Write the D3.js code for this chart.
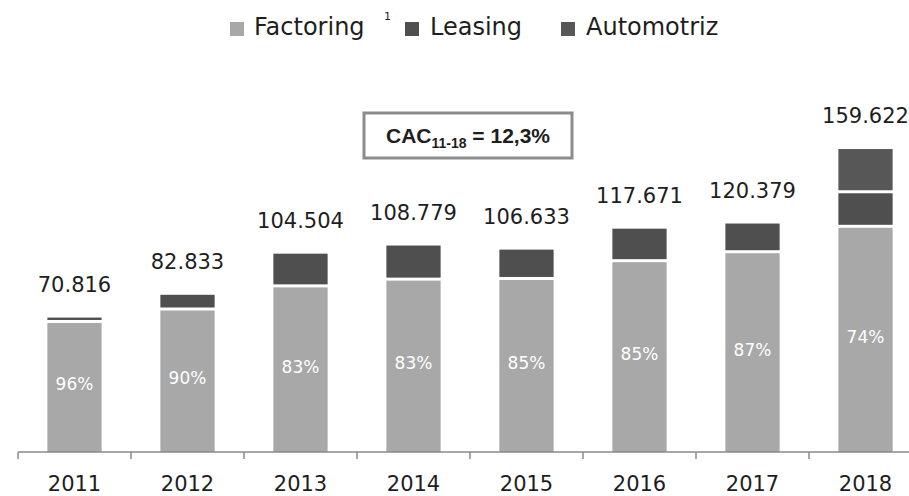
<!DOCTYPE html>
<html>
<head>
<meta charset="utf-8">
<script src="https://cdn.jsdelivr.net/npm/d3@7"></script>
<style>
  body { margin: 0; background: #fff; }
  svg { display: block; font-family: "DejaVu Sans", sans-serif; }
</style>
</head>
<body>
<div id="graphic"></div>
<script>
const years = ["2011", "2012", "2013", "2014", "2015", "2016", "2017", "2018"];
const totals = [70.816, 82.833, 104.504, 108.779, 106.633, 117.671, 120.379, 159.622];
const totalLabels = ["70.816", "82.833", "104.504", "108.779", "106.633", "117.671", "120.379", "159.622"];
const factoring = [67.98, 74.55, 86.74, 90.29, 90.64, 100.02, 104.73, 118.12];
const leasing = [2.84, 8.28, 17.76, 18.49, 15.99, 17.65, 15.65, 18.2];
const automotriz = [0, 0, 0, 0, 0, 0, 0, 23.3];
const factoringPct = ["96%", "90%", "83%", "83%", "85%", "85%", "87%", "74%"];

const width = 909, height = 496;
const baseY = 452;

const svg = d3.select("#graphic")
    .append("svg")
    .attr("width", width)
    .attr("height", height);

const data = years.map((y, i) => ({
    year: y, Factoring: factoring[i], Leasing: leasing[i], Automotriz: automotriz[i]
}));
const keys = ["Factoring", "Leasing", "Automotriz"];
const colors = { Factoring: "#a8a8a8", Leasing: "#4f4f4f", Automotriz: "#575757" };

const x = d3.scaleBand()
    .domain(years)
    .range([18, 922])
    .paddingInner(0.52)
    .paddingOuter(0.26);

const y = d3.scaleLinear()
    .domain([0, 160])
    .range([baseY, baseY - 160 * 1.898]);

const stacked = d3.stack().keys(keys)(data);

// bars, with a white gap between segments
const gap = 3;
svg.append("g")
    .selectAll("g")
    .data(stacked)
    .join("g")
    .attr("fill", d => colors[d.key])
    .selectAll("rect")
    .data(d => d.filter(s => s[1] - s[0] > 0))
    .join("rect")
    .attr("x", d => x(d.data.year))
    .attr("width", x.bandwidth())
    .attr("y", d => y(d[1]))
    .attr("height", d => y(d[0]) - y(d[1]) - (d[0] > 0 ? gap : 0));

// X axis
const axis = svg.append("g")
    .attr("transform", `translate(0,${baseY})`);
axis.append("line")
    .attr("x1", 18).attr("x2", width)
    .attr("stroke", "#8a8a8a").attr("stroke-width", 1.5);
axis.selectAll(".tk")
    .data(years)
    .join("line")
    .attr("class", "tk")
    .attr("x1", d => x(d) - x.step() * x.paddingInner() / 2)
    .attr("x2", d => x(d) - x.step() * x.paddingInner() / 2)
    .attr("y1", 0).attr("y2", 7)
    .attr("stroke", "#8a8a8a").attr("stroke-width", 1.5);
axis.selectAll(".yr")
    .data(years)
    .join("text")
    .attr("class", "yr")
    .attr("x", d => x(d) + x.bandwidth() / 2)
    .attr("y", 39)
    .attr("text-anchor", "middle")
    .attr("font-size", 21)
    .attr("fill", "#1e1e1e")
    .text(d => d);

// totals above bars
svg.append("g")
    .selectAll("text")
    .data(years)
    .join("text")
    .attr("x", d => x(d) + x.bandwidth() / 2)
    .attr("y", (d, i) => y(totals[i]) - 26)
    .attr("text-anchor", "middle")
    .attr("font-size", 21)
    .attr("fill", "#1e1e1e")
    .text((d, i) => totalLabels[i]);

// factoring share inside bars
svg.append("g")
    .selectAll("text")
    .data(years)
    .join("text")
    .attr("x", d => x(d) + x.bandwidth() / 2)
    .attr("y", (d, i) => (y(factoring[i]) + y(0)) / 2 + 3)
    .attr("text-anchor", "middle")
    .attr("font-size", 17)
    .attr("fill", "#fff")
    .text((d, i) => factoringPct[i]);

// legend
const legend = svg.append("g").attr("font-size", 24).attr("fill", "#1e1e1e");
const legendItems = [
    { key: "Factoring", sx: 230, tx: 254 },
    { key: "Leasing", sx: 405, tx: 430 },
    { key: "Automotriz", sx: 561, tx: 586 }
];
legend.selectAll("rect")
    .data(legendItems)
    .join("rect")
    .attr("x", d => d.sx).attr("y", 22)
    .attr("width", 14).attr("height", 14)
    .attr("fill", d => colors[d.key]);
legend.selectAll("text.lg")
    .data(legendItems)
    .join("text")
    .attr("class", "lg")
    .attr("x", d => d.tx).attr("y", 35)
    .text(d => d.key);
legend.append("text")
    .attr("x", 384).attr("y", 20)
    .attr("font-size", 11)
    .text("1");

// CAC box
const box = svg.append("g");
box.append("rect")
    .attr("x", 364).attr("y", 113)
    .attr("width", 208).attr("height", 45)
    .attr("fill", "#fff")
    .attr("stroke", "#8c8c8c").attr("stroke-width", 3);
const cac = box.append("text")
    .attr("x", 468).attr("y", 143)
    .attr("text-anchor", "middle")
    .attr("font-family", "'Liberation Sans', Arial, sans-serif")
    .attr("font-weight", "bold")
    .attr("font-size", 21)
    .attr("fill", "#1e1e1e");
cac.append("tspan").text("CAC");
cac.append("tspan").attr("font-size", 14).attr("dy", 5).text("11-18");
cac.append("tspan").attr("dy", -5).text(" = 12,3%");
</script>
</body>
</html>
